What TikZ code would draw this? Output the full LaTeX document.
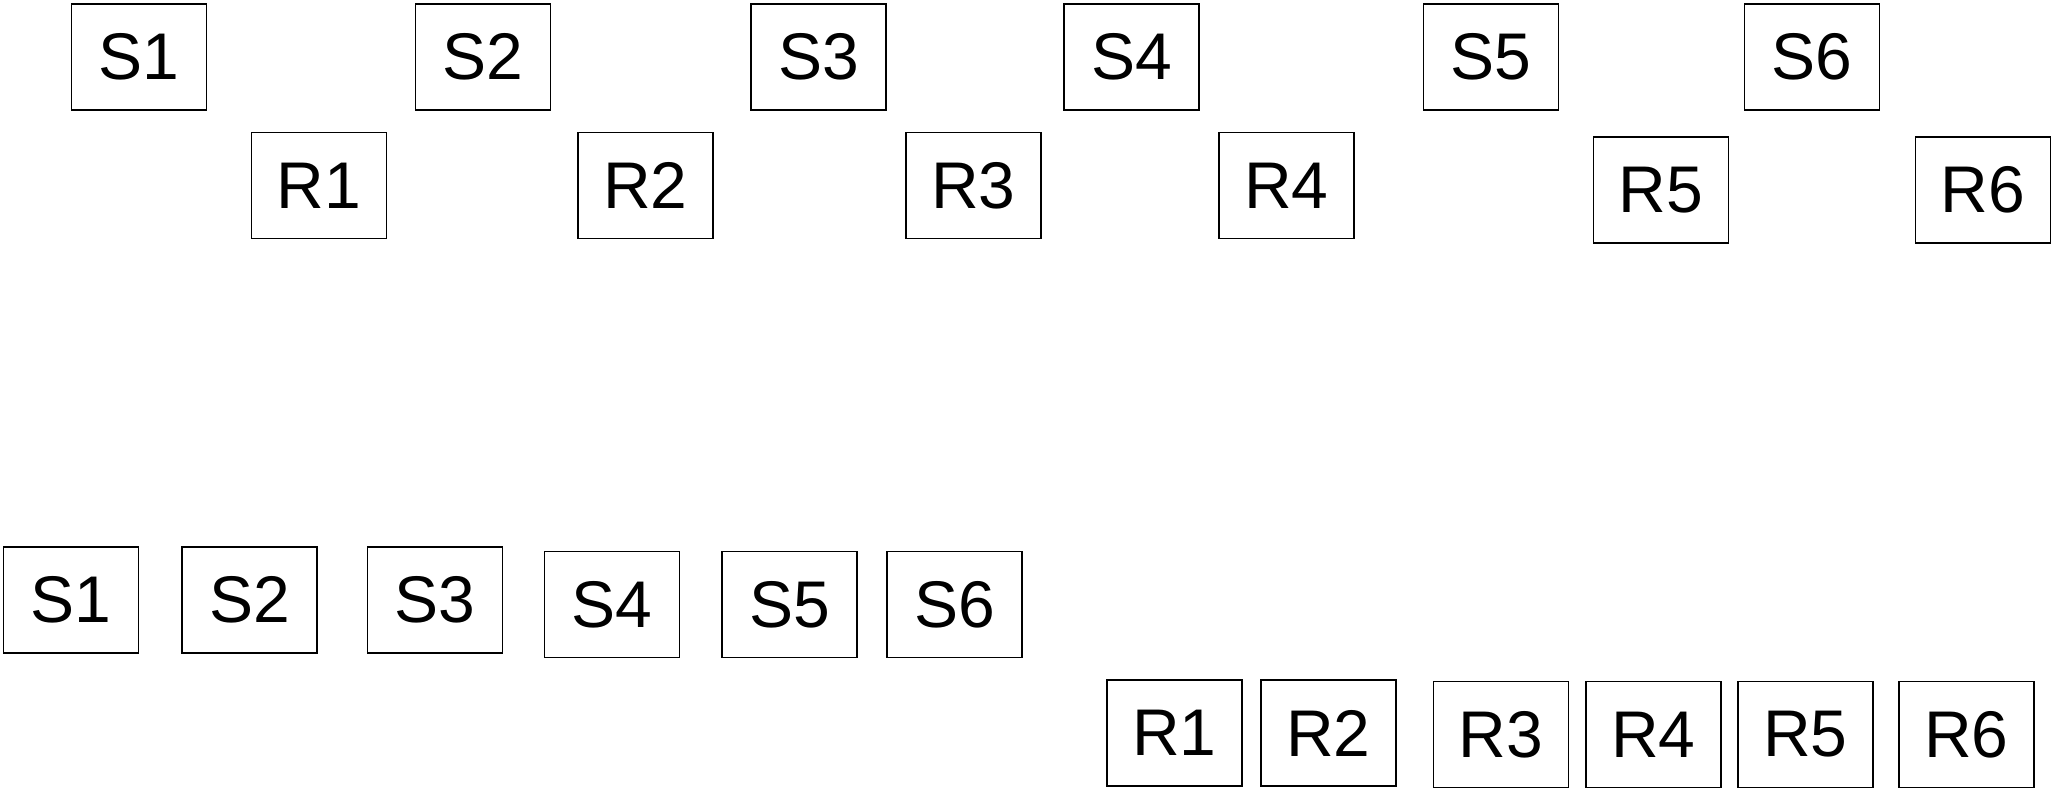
\documentclass[tikz,border=0pt]{standalone}
\usepackage{fontspec}
\setmainfont{Liberation Sans}
\begin{document}
\begin{tikzpicture}[x=0.5pt,y=-0.5pt,
  cell/.style={draw=black,line width=0.7pt,minimum width=67.5pt,minimum height=53pt,inner sep=0pt,
    font=\fontsize{33pt}{36pt}\selectfont}]
\useasboundingbox (0,0) rectangle (2056,792);
% top row: S
\node[cell] (s1) at (139,57) {S1};
\node[cell] (s2) at (483,57) {S2};
\node[cell] (s3) at (818.5,57) {S3};
\node[cell] (s4) at (1131.5,57) {S4};
\node[cell] (s5) at (1491,57) {S5};
\node[cell] (s6) at (1812,57) {S6};
% top row: R
\node[cell] (r1) at (319,185.5) {R1};
\node[cell] (r2) at (645.5,185.5) {R2};
\node[cell] (r3) at (973.5,185.5) {R3};
\node[cell] (r4) at (1286.5,185.5) {R4};
\node[cell] (r5) at (1661,190) {R5};
\node[cell] (r6) at (1983,190) {R6};
% bottom row: S
\node[cell] (bs1) at (71,600) {S1};
\node[cell] (bs2) at (249.5,600) {S2};
\node[cell] (bs3) at (435,600) {S3};
\node[cell] (bs4) at (612,604.5) {S4};
\node[cell] (bs5) at (789.5,604.5) {S5};
\node[cell] (bs6) at (954.5,604.5) {S6};
% bottom row: R
\node[cell] (br1) at (1174.5,733) {R1};
\node[cell] (br2) at (1328.5,733) {R2};
\node[cell] (br3) at (1501,734.5) {R3};
\node[cell] (br4) at (1653.5,734.5) {R4};
\node[cell] (br5) at (1805.5,734.5) {R5};
\node[cell] (br6) at (1966.5,734.5) {R6};
\end{tikzpicture}
\end{document}
